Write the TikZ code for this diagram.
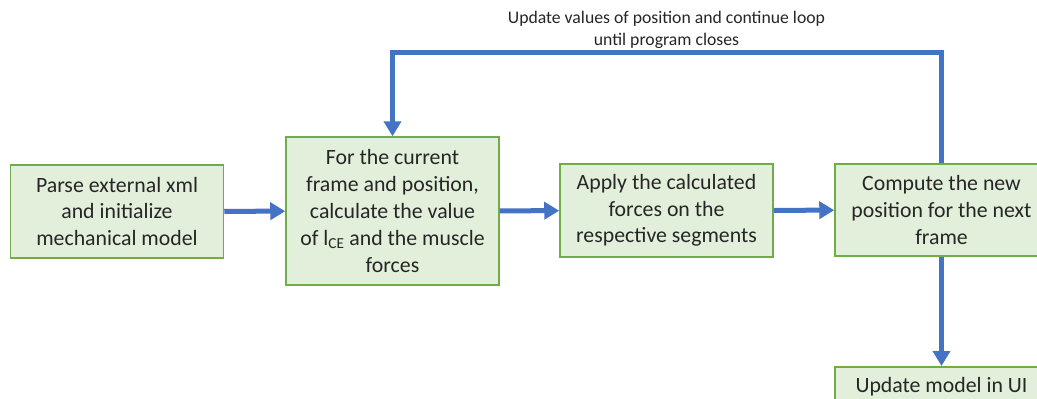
\documentclass[tikz,border=0pt]{standalone}
\usepackage{fontspec}
\setmainfont{Carlito}
\usetikzlibrary{positioning, arrows.meta}
\definecolor{boxfill}{RGB}{226,239,218}
\definecolor{boxline}{RGB}{112,173,71}
\definecolor{flow}{RGB}{68,114,196}
\tikzstyle{blk}=[draw=boxline,fill=boxfill,line width=1.5pt,minimum width=213pt,minimum height=93pt,inner sep=2pt,align=center,text=black!85,font=\fontsize{21.8}{26.8}\selectfont]
\tikzstyle{lnk}=[flow,line width=5pt,-{Triangle[length=15pt,width=17pt]}]
\tikzstyle{note}=[text=black!85,align=center,font=\fontsize{17.7}{22}\selectfont]

\begin{document}
\begin{tikzpicture}[x=1pt,y=-1pt]
    \useasboundingbox (0,0) rectangle (1037,399);
    \clip (0,0) rectangle (1037,399);
    \node[blk] (parse) at (117,211.5) {Parse external xml\\and initialize\\mechanical model};
    \node[blk,minimum height=148pt] (forces) at (392.5,211) {For the current\\frame and position,\\calculate the value\\of l\textsubscript{CE} and the muscle\\forces};
    \node[blk] (apply) at (666.5,210.5) {Apply the calculated\\forces on the\\respective segments};
    \node[blk,minimum height=92pt] (compute) at (941.5,210) {Compute the new\\position for the next\\frame};
    \node[blk,anchor=north,minimum height=40pt] (ui) at (941.5,366) {Update model in UI};
    \node[note] (loopnote) at (666.5,30) {Update values of position and continue loop\\until program closes};
    \coordinate (looptop) at (667,52);
    % main flow
    \draw[lnk] (parse) -- (forces);
    \draw[lnk] (forces) -- (apply);
    \draw[lnk] (apply) -- (compute);
    \draw[lnk] (compute) -- (ui);
    % loop back
    \draw[lnk] (compute.north) |- (looptop) -| (forces.north);
\end{tikzpicture}
\end{document}
